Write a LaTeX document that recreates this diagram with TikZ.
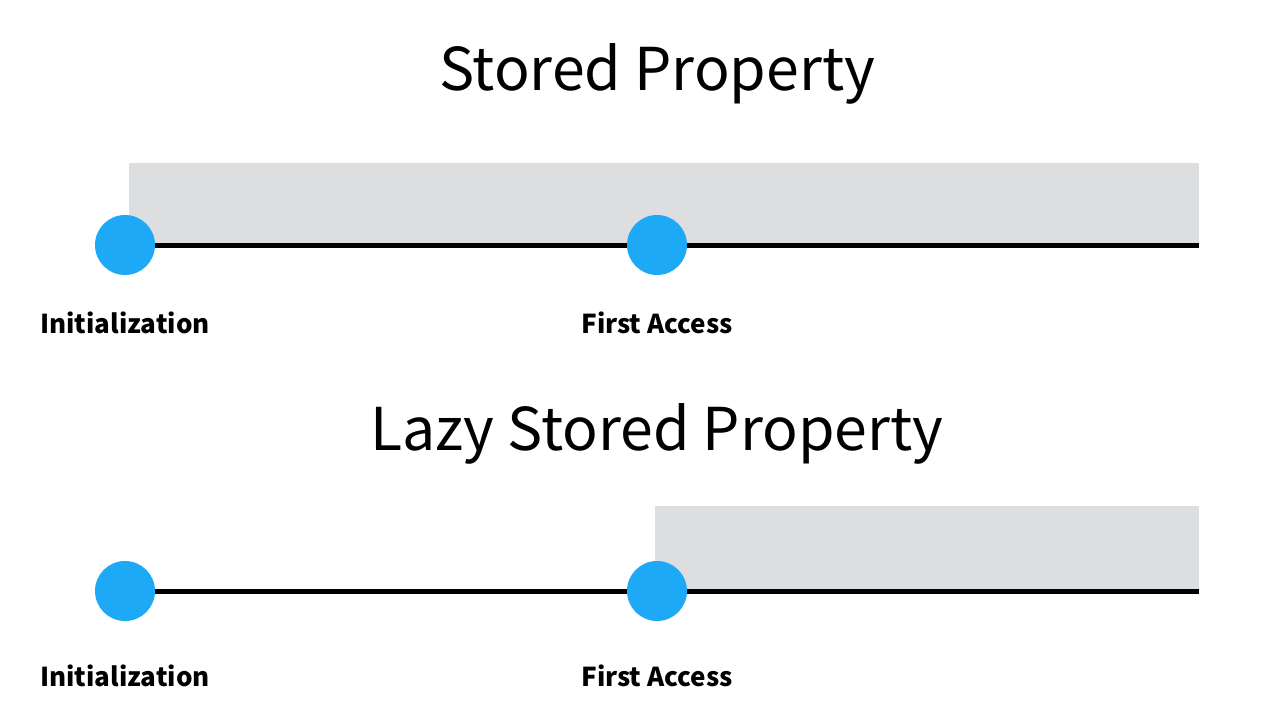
\documentclass[tikz,border=0pt]{standalone}
\usepackage{fontspec}
\setmainfont{Noto Sans CJK KR}
\definecolor{dotblue}{HTML}{1DA9F5}
\definecolor{spangray}{HTML}{DDDEE0}
\tikzset{
  dot/.style={circle,fill=dotblue,inner sep=0pt,minimum size=60pt},
  timeline/.style={line width=5pt},
  title/.style={font=\fontsize{59}{65}\selectfont},
  event/.style={font=\fontsize{26}{29}\selectfont\bfseries}
}
\begin{document}
\begin{tikzpicture}[x=1pt,y=-1pt]
      \useasboundingbox (0,0) rectangle (1269,728);
      % stored property
      \node[title] (storedtitle) at (657,74) {Stored Property};
      \fill[spangray] (129,163) rectangle (1199,245);
      \coordinate (storedend) at (1199,245);
      \node[dot] (storedinit) at (125,245) {};
      \node[dot] (storedfirst) at (657,245) {};
      \draw[timeline] (storedinit) -- (storedfirst) -- (storedend);
      \node[event] (storedinitlabel) at (125,323) {Initialization};
      \node[event] (storedfirstlabel) at (657,323) {First Access};
      % lazy stored property
      \node[title] (lazytitle) at (657,434) {Lazy Stored Property};
      \fill[spangray] (655,506) rectangle (1199,591);
      \coordinate (lazyend) at (1199,591);
      \node[dot] (lazyinit) at (125,591) {};
      \node[dot] (lazyfirst) at (657,591) {};
      \draw[timeline] (lazyinit) -- (lazyfirst) -- (lazyend);
      \node[event] (lazyinitlabel) at (125,676) {Initialization};
      \node[event] (lazyfirstlabel) at (657,676) {First Access};
\end{tikzpicture}
\end{document}
